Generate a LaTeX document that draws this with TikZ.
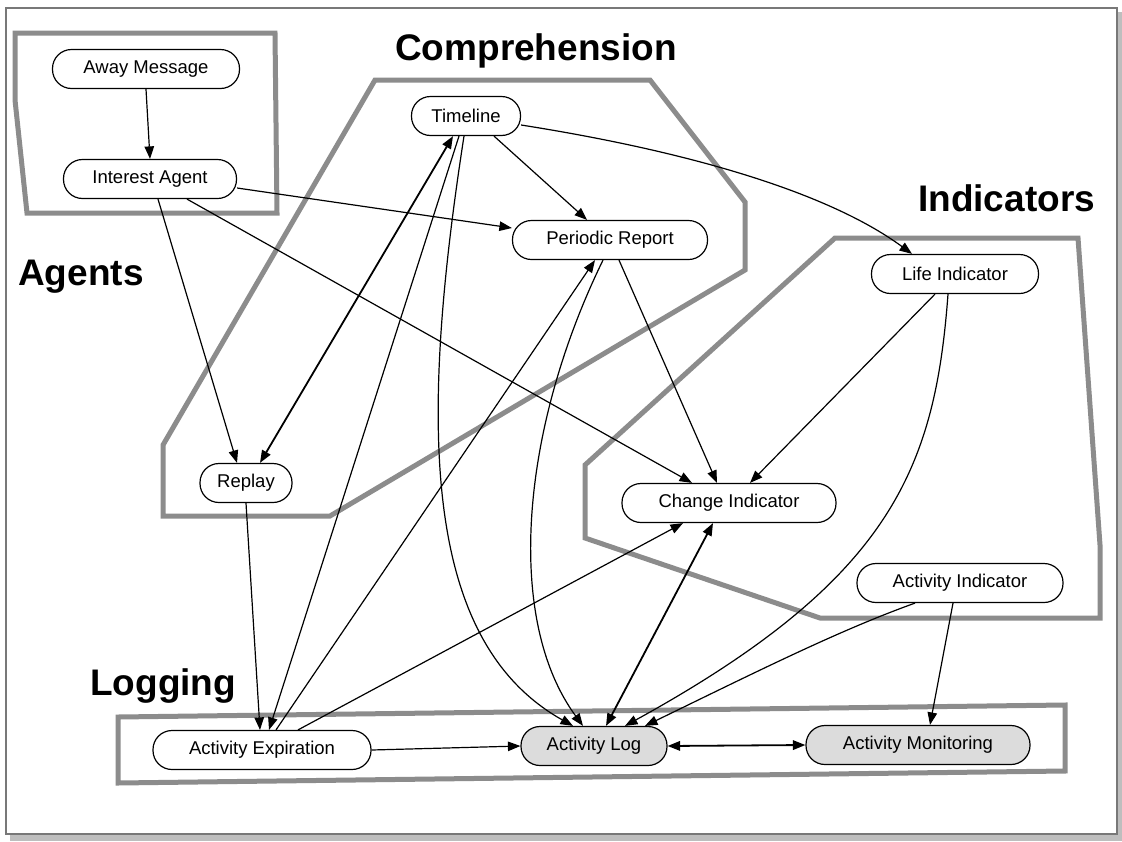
\documentclass[tikz,border=0pt]{standalone}
\usepackage{fontspec}
\setmainfont{Liberation Sans}
\usetikzlibrary{arrows.meta,calc}
\definecolor{grp}{RGB}{140,140,140}
\definecolor{fillg}{RGB}{220,220,220}
\definecolor{frameline}{RGB}{120,120,120}
\definecolor{frameshadow}{RGB}{190,190,190}
\begin{document}
\begin{tikzpicture}[x=1pt,y=-1pt,
  nd/.style={draw=black, line width=1.2pt, rectangle, rounded corners=19pt,
    minimum height=39pt, inner sep=0pt, fill=white,
    font=\fontsize{18.5}{22}\selectfont},
  ar/.style={line width=1.2pt, -{Triangle[length=12.5pt,width=9.5pt]}},
  dar/.style={line width=1.8pt, {Triangle[length=12.5pt,width=9.5pt]}-{Triangle[length=12.5pt,width=9.5pt]}},
  grpline/.style={draw=grp, line width=5pt, line join=miter},
  lab/.style={font=\fontsize{37}{44}\selectfont\bfseries, inner sep=0pt, anchor=base west}]
\useasboundingbox (0,0) rectangle (1122,841);
\fill[white] (0,0) rectangle (1122,841);
% frame
\fill[frameshadow] (10,12) rectangle (1122,841);
\draw[frameline, line width=2pt, fill=white] (6,8) rectangle (1117,834);
% groups
\draw[grpline] (15,33) -- (275,33) -- (277,213) -- (27,213) -- (15,100) -- cycle;
\draw[grpline] (375,80) -- (650,80) -- (745,202) -- (745,270) -- (330,516) -- (163,516) -- (163,445) -- cycle;
\draw[grpline] (835,238) -- (1078,238) -- (1100,545) -- (1100,618) -- (820,618) -- (585,538) -- (585,465) -- cycle;
\draw[grpline] (118,717) -- (1065,705) -- (1065,771) -- (118,783) -- cycle;
% group labels
\node[lab] (lcomp) at (395,60) {Comprehension};
\node[lab] (lagents) at (18,285) {Agents};
\node[lab] (lind) at (918,211) {Indicators};
\node[lab] (llog) at (90,695) {Logging};
% nodes
\node[nd, minimum width=187pt] (am) at (146,69) {Away Message};
\node[nd, minimum width=173pt] (ia) at (150,179) {Interest Agent};
\node[nd, minimum width=109pt] (tl) at (466,116) {Timeline};
\node[nd, minimum width=195pt] (pr) at (610,240) {Periodic Report};
\node[nd, minimum width=167pt] (li) at (955,274) {Life Indicator};
\node[nd, minimum width=92pt] (rp) at (246,483) {Replay};
\node[nd, minimum width=214pt] (ci) at (729,503) {Change Indicator};
\node[nd, minimum width=206pt] (ai) at (960,583) {Activity Indicator};
\node[nd, minimum width=218pt] (ae) at (262,750) {Activity Expiration};
\node[nd, minimum width=146pt, fill=fillg] (al) at (594,746) {Activity Log};
\node[nd, minimum width=224pt, fill=fillg] (mon) at (918,745) {Activity Monitoring};
% edges
\draw[ar] (am.south) -- (ia.north);
\draw[ar] ([xshift=8pt]ia.south) -- ([xshift=-9pt]rp.north);
\draw[ar] ([yshift=-9pt]ia.east) -- ([yshift=12pt]pr.west);
\draw[ar] ([xshift=37pt]ia.south) -- ([xshift=-37pt]ci.north);
\draw[dar] ([xshift=-13pt]tl.south) -- ([xshift=14pt]rp.north);
\draw[ar] ([xshift=-7pt]tl.south) -- ([xshift=7pt]ae.north);
\draw[ar] (rp.south) -- ([xshift=-2pt]ae.north);
\draw[ar] ([xshift=14pt]ae.north) -- ([xshift=-15pt]pr.south);
\draw[ar] ([xshift=36pt]ae.north) -- ([xshift=-46pt]ci.south);
\draw[ar] (ae.east) -- (al.west);
\draw[ar] ([xshift=28pt]tl.south) -- ([xshift=-23pt]pr.north);
\draw[ar] ([yshift=-9pt]tl.east) .. controls (680,150) and (825,190) .. ([xshift=-43pt]li.north);
\draw[ar] ([xshift=-2pt]tl.south) .. controls (420,420) and (420,640) .. ([xshift=-21pt]al.north);
\draw[ar] ([xshift=-7pt]pr.south) .. controls (520,430) and (505,620) .. ([xshift=-11pt]al.north);
\draw[ar] ([xshift=9pt]pr.south) -- ([xshift=-12pt]ci.north);
\draw[ar] ([xshift=-20pt]li.south) -- ([xshift=21pt]ci.north);
\draw[ar] ([xshift=-7pt]li.south) .. controls (935,470) and (890,580) .. ([xshift=31pt]al.north);
\draw[ar] ([xshift=-45pt]ai.south) .. controls (840,630) and (760,670) .. ([xshift=51pt]al.north);
\draw[ar] ([xshift=-7pt]ai.south) -- ([xshift=12pt]mon.north);
\draw[dar] ([xshift=12pt]al.north) -- ([xshift=-16pt]ci.south);
\draw[dar] (al.east) -- (mon.west);
\end{tikzpicture}
\end{document}
